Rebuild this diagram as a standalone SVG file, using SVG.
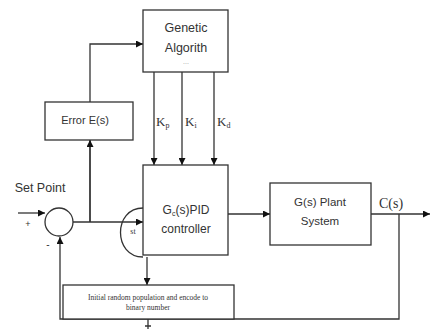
<svg xmlns="http://www.w3.org/2000/svg" width="430" height="329" viewBox="0 0 430 329">
<defs>
<marker id="ah" viewBox="0 0 10 10" refX="10" refY="5" markerWidth="7" markerHeight="7" markerUnits="userSpaceOnUse" orient="auto"><path d="M0,0 L10,5 L0,10 z" fill="#111"/></marker>
<style>
.box{fill:#fff;stroke:#333;stroke-width:1.3}
.ln{fill:none;stroke:#333;stroke-width:1.3}
.t{font-family:"Liberation Sans",Arial,sans-serif;font-size:12px;fill:#333;text-anchor:middle}
.s{font-family:"Liberation Serif","Times New Roman",serif;fill:#333}
</style>
</defs>
<rect width="430" height="329" fill="#fff"/>
<g id="connectors">
<path class="ln" d="M90,222 V44 H143" marker-end="url(#ah)"/>
<path class="ln" d="M90,222 V140" marker-end="url(#ah)"/>
<path class="ln" d="M18,213 H45" marker-end="url(#ah)"/>
<path class="ln" d="M73,222 H143" marker-end="url(#ah)"/>
<path class="ln" d="M154,72 V165" marker-end="url(#ah)"/>
<path class="ln" d="M182,72 V165" marker-end="url(#ah)"/>
<path class="ln" d="M214,72 V165" marker-end="url(#ah)"/>
<path class="ln" d="M228,214 H270" marker-end="url(#ah)"/>
<path class="ln" d="M371,214 H430" marker-end="url(#ah)"/>
<path class="ln" d="M399,214 V319 H60 V237" marker-end="url(#ah)"/>
<path class="ln" d="M143,208 C113,208 113,257 143,257"/>
<path class="ln" d="M147,257 V285" marker-end="url(#ah)"/>
<path class="ln" d="M148,319 V329 M145,326 H151"/>
</g>
<g id="genetic"><rect class="box" x="143" y="10" width="85" height="62"/>
<text class="t" x="186" y="32" style="font-size:12.5px">Genetic</text><text class="t" x="186" y="52" style="font-size:12.5px">Algorith</text>
<text class="t" x="186" y="64" style="font-size:7px;fill:#999">...</text></g>
<g id="error"><rect class="box" x="45" y="102" width="88" height="38"/><text class="t" x="85" y="124" style="font-size:11px">Error E(s)</text></g>
<g id="sum"><circle cx="59" cy="222" r="14" class="box"/>
<text class="t" x="28" y="227" style="font-size:9px">+</text><text class="t" x="48" y="248" style="font-size:10px">-</text></g>
<text class="t" x="40" y="192" style="font-size:12.5px">Set Point</text>
<g id="pid"><rect class="box" x="143" y="165" width="85" height="90"/>
<text class="t" x="186" y="214">G<tspan style="font-size:7px" dy="2">c</tspan><tspan dy="-2">(s)PID</tspan></text>
<text class="t" x="186" y="233">controller</text>
<text class="s" x="133" y="234" style="font-size:8px" text-anchor="middle">st</text></g>
<g id="gains">
<text class="s" x="156" y="126" style="font-size:13px">K<tspan style="font-size:8px" dy="2">p</tspan></text>
<text class="s" x="185" y="126" style="font-size:13px">K<tspan style="font-size:8px" dy="2">i</tspan></text>
<text class="s" x="217" y="126" style="font-size:13px">K<tspan style="font-size:8px" dy="2">d</tspan></text>
</g>
<g id="plant"><rect class="box" x="270" y="183" width="101" height="62"/>
<text class="t" x="320" y="206" style="font-size:11.5px">G(s) Plant</text><text class="t" x="320" y="225" style="font-size:11.5px">System</text></g>
<text class="s" x="379" y="208" style="font-size:14px">C(s)</text>
<g id="init"><rect class="box" x="63" y="285" width="171" height="34"/>
<text class="s" x="148" y="300" style="font-size:7.5px" text-anchor="middle">Initial random population and encode to</text>
<text class="s" x="148" y="310" style="font-size:7.5px" text-anchor="middle">binary number</text></g>
</svg>
